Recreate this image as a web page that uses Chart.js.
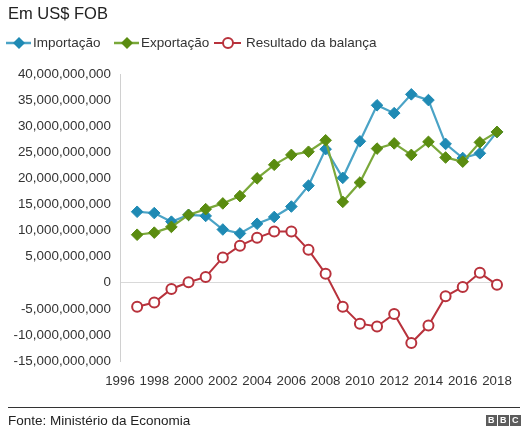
<!DOCTYPE html>
<html>
<head>
<meta charset="utf-8">
<script src="https://cdn.jsdelivr.net/npm/chart.js@4"></script>
<style>
  html, body { margin: 0; padding: 0; background: #fff; }
  #wrap { position: relative; width: 528px; height: 433px; overflow: hidden; font-family: "Liberation Sans", Arial, sans-serif; }
  #c { position: absolute; left: 0; top: 0; }
  .txt { position: absolute; white-space: nowrap; }
  #title { left: 8px; top: 3px; font-size: 16.5px; line-height: 20px; color: #222; }
  .leg { position: absolute; top: 34px; height: 18px; font-size: 13.5px; line-height: 18px; color: #333; white-space: nowrap; }
  .leg svg { position: absolute; left: 0; top: 0; }
  .leg span { position: absolute; top: 0; }
  #rule { position: absolute; left: 8px; top: 407px; width: 512px; height: 1px; background: #333; }
  #source { left: 8px; top: 412px; font-size: 13.5px; line-height: 18px; color: #222; }
  #bbc { position: absolute; left: 486px; top: 415px; height: 11px; }
  #bbc div { float: left; width: 10.5px; height: 11px; margin-right: 1.5px; background: #5c5c5c; color: #fff; font: bold 9px/11px "Liberation Sans", Arial, sans-serif; text-align: center; }
</style>
</head>
<body>
<div id="wrap">
  <canvas id="c" width="528" height="433"></canvas>
  <div id="title" class="txt">Em US$ FOB</div>

  <div class="leg" style="left:6px;width:110px;">
    <svg width="28" height="18"><line x1="0" y1="9" x2="25" y2="9" stroke="#4aa3c6" stroke-width="2.5"/><polygon points="13,3 19,9 13,15 7,9" fill="#1f8ab4"/></svg>
    <span style="left:27px;">Importação</span>
  </div>
  <div class="leg" style="left:114px;width:110px;">
    <svg width="28" height="18"><line x1="0" y1="9" x2="25" y2="9" stroke="#7aa83a" stroke-width="2.5"/><polygon points="13,3 19,9 13,15 7,9" fill="#5a8c10"/></svg>
    <span style="left:27px;">Exportação</span>
  </div>
  <div class="leg" style="left:214px;width:180px;">
    <svg width="28" height="18"><line x1="0" y1="9" x2="27" y2="9" stroke="#b8323c" stroke-width="2"/><circle cx="14" cy="9" r="5" fill="#fff" stroke="#b8323c" stroke-width="2"/></svg>
    <span style="left:32px;">Resultado da balança</span>
  </div>

  <div id="rule"></div>
  <div id="source" class="txt">Fonte: Ministério da Economia</div>
  <div id="bbc"><div>B</div><div>B</div><div>C</div></div>
</div>
<script>
const years = [1997,1998,1999,2000,2001,2002,2003,2004,2005,2006,2007,2008,2009,2010,2011,2012,2013,2014,2015,2016,2017,2018];
// values in US$ billions
const importacao = [13.6,13.35,11.7,13.0,12.8,10.2,9.45,11.3,12.6,14.6,18.6,25.6,20.1,27.1,34.0,32.5,36.1,35.0,26.6,23.9,24.8,28.9];
const exportacao = [9.2,9.6,10.7,13.0,14.1,15.2,16.6,20.0,22.6,24.5,25.1,27.3,15.5,19.2,25.7,26.7,24.5,27.0,24.0,23.2,26.9,28.9];
const resultado  = [-4.6,-3.8,-1.2,0.1,1.1,4.85,7.1,8.6,9.8,9.8,6.3,1.7,-4.6,-7.85,-8.4,-6.0,-11.55,-8.2,-2.6,-0.8,1.9,-0.4];
const yTicks = [-15,-10,-5,0,5,10,15,20,25,30,35,40]; // billions
const xTickYears = [1996,1998,2000,2002,2004,2006,2008,2010,2012,2014,2016,2018];

const B = 1e9;
const toPts = arr => years.map((yr, i) => ({ x: yr, y: arr[i] * B }));

const fontFamily = '"Liberation Sans", Arial, sans-serif';

new Chart(document.getElementById('c'), {
  type: 'line',
  data: {
    datasets: [
      {
        label: 'Importação',
        data: toPts(importacao),
        borderColor: '#4aa3c6',
        borderWidth: 2.2,
        pointStyle: 'rectRot',
        pointRadius: 5.8,
        pointBackgroundColor: '#1f8ab4',
        pointBorderColor: '#1f8ab4',
        pointBorderWidth: 1,
        tension: 0,
        clip: false,
        order: 1
      },
      {
        label: 'Exportação',
        data: toPts(exportacao),
        borderColor: '#7aa83a',
        borderWidth: 2.2,
        pointStyle: 'rectRot',
        pointRadius: 5.8,
        pointBackgroundColor: '#5a8c10',
        pointBorderColor: '#5a8c10',
        pointBorderWidth: 1,
        tension: 0,
        clip: false,
        order: 0
      },
      {
        label: 'Resultado da balança',
        data: toPts(resultado),
        borderColor: '#b8323c',
        borderWidth: 2,
        pointStyle: 'circle',
        pointRadius: 5,
        pointBackgroundColor: '#ffffff',
        pointBorderColor: '#b8323c',
        pointBorderWidth: 2,
        tension: 0,
        clip: false,
        order: 2
      }
    ]
  },
  options: {
    responsive: false,
    animation: false,
    layout: { padding: { top: 74, right: 31, bottom: 0, left: 0 } },
    plugins: { legend: { display: false }, tooltip: { enabled: false }, title: { display: false } },
    scales: {
      x: {
        type: 'linear',
        min: 1996,
        max: 2018,
        afterFit: s => { s.height = 72; },
        afterBuildTicks: s => { s.ticks = xTickYears.map(v => ({ value: v })); },
        grid: { display: false, drawTicks: false },
        border: { display: false },
        ticks: {
          padding: 12,
          maxRotation: 0,
          autoSkip: false,
          color: '#333',
          font: { family: fontFamily, size: 13.3 },
          callback: v => String(v)
        }
      },
      y: {
        type: 'linear',
        min: yTicks[0] * B,
        max: yTicks[yTicks.length - 1] * B,
        afterFit: s => { s.width = 120; },
        afterBuildTicks: s => { s.ticks = yTicks.map(v => ({ value: v * B })); },
        grid: {
          drawTicks: false,
          color: c => (c.tick && c.tick.value === 0 ? '#d9d9d9' : 'rgba(0,0,0,0)'),
          lineWidth: 1
        },
        border: { display: true, color: '#d0d0d0', width: 1 },
        ticks: {
          padding: 9,
          color: '#333',
          font: { family: fontFamily, size: 13.4 },
          callback: v => Math.round(v).toLocaleString('en-US')
        }
      }
    }
  }
});
</script>
</body>
</html>
